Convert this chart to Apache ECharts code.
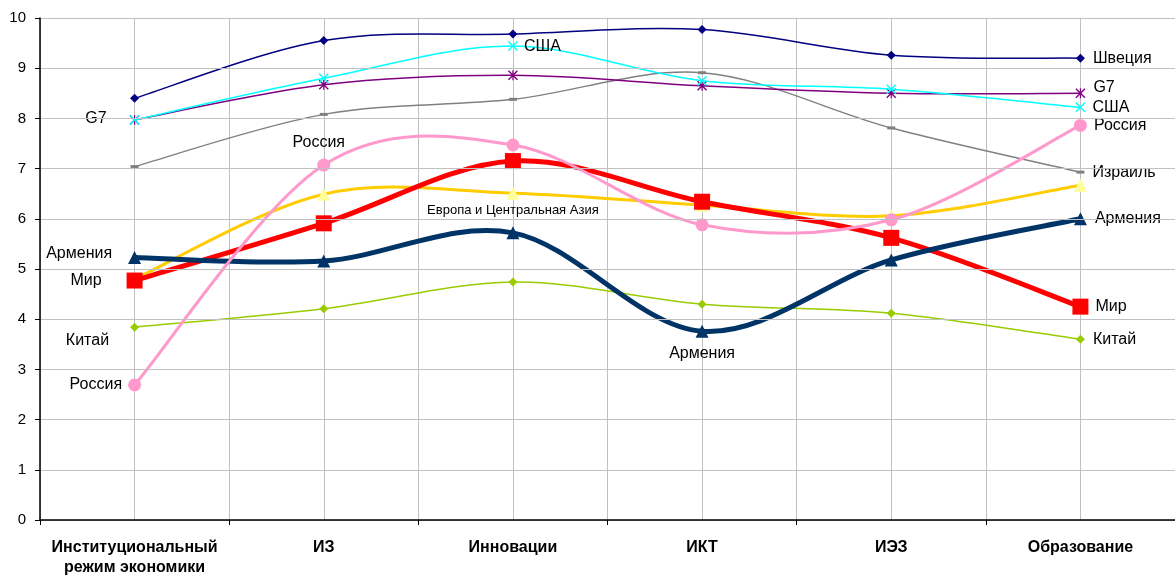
<!DOCTYPE html>
<html><head><meta charset="utf-8">
<script src="https://cdn.jsdelivr.net/npm/echarts@6/dist/echarts.min.js"></script>
<style>html,body{margin:0;padding:0;background:#fff}#c{width:1175px;height:576px}</style>
</head><body><div id="c"></div>
<script>
var categories = ['Институциональный\nрежим экономики', 'ИЗ', 'Инновации', 'ИКТ', 'ИЭЗ', 'Образование'];
var yTicks = [0,1,2,3,4,5,6,7,8,9,10];
var sweden  = [8.40, 9.55, 9.68, 9.77, 9.26, 9.20];
var usa     = [7.97, 8.80, 9.44, 8.75, 8.58, 8.22];
var g7      = [7.97, 8.67, 8.86, 8.65, 8.50, 8.50];
var israel  = [7.04, 8.08, 8.38, 8.91, 7.81, 6.93];
var russia  = [2.69, 7.07, 7.47, 5.88, 5.98, 7.86];
var europe  = [4.80, 6.49, 6.51, 6.27, 6.06, 6.67];
var world   = [4.77, 5.91, 7.15, 6.34, 5.62, 4.25];
var armenia = [5.23, 5.16, 5.72, 3.76, 5.18, 6.00];
var china   = [3.84, 4.21, 4.74, 4.30, 4.12, 3.60];

var FONT = '"Liberation Sans", Arial, sans-serif';
function lab(name, pos, dist, off, size) {
  return {show: true, position: pos, distance: dist, offset: off || [0,0], formatter: name,
          color: '#000', fontSize: size || 16, fontFamily: FONT};
}
function withLabels(arr, labels) {
  return arr.map(function (v, i) {
    return labels[i] ? {value: v, label: labels[i]} : v;
  });
}
var X_PATH = 'path://M0,1L1,0L5,4L9,0L10,1L6,5L10,9L9,10L5,6L1,10L0,9L4,5Z';
var STAR_PATH = 'path://M0,1L1,0L5,4L9,0L10,1L6,5L10,9L9,10L5,6L1,10L0,9L4,5ZM4.4,0L5.6,0L5.6,10L4.4,10Z';

// Excel-like smooth curve (Catmull-Rom -> cubic Bezier) drawn through the axes' scales
function curve(values, color, width, z) {
  return {
    type: 'custom', xAxisIndex: 0, yAxisIndex: 0, z: z, silent: true,
    data: values.map(function (v, i) { return [i, v]; }),
    renderItem: function (params, api) {
      if (params.dataIndex !== 0) return null;
      var p = values.map(function (v, i) { return api.coord([i, v]); });
      var n = p.length;
      var d = 'M' + p[0][0] + ',' + p[0][1];
      for (var i = 0; i < n - 1; i++) {
        var p0 = p[Math.max(i - 1, 0)], p1 = p[i], p2 = p[i + 1], p3 = p[Math.min(i + 2, n - 1)];
        var c1x = p1[0] + (p2[0] - p0[0]) / 6, c1y = p1[1] + (p2[1] - p0[1]) / 6;
        var c2x = p2[0] - (p3[0] - p1[0]) / 6, c2y = p2[1] - (p3[1] - p1[1]) / 6;
        d += 'C' + c1x + ',' + c1y + ' ' + c2x + ',' + c2y + ' ' + p2[0] + ',' + p2[1];
      }
      return {type: 'path', shape: {pathData: d},
              style: {fill: 'none', stroke: color, lineWidth: width, lineJoin: 'round'}};
    }
  };
}
function markers(name, data, symbol, size, color, z, labels) {
  return {
    name: name, type: 'line', data: withLabels(data, labels || {}),
    xAxisIndex: 0, yAxisIndex: 0, z: z,
    lineStyle: {width: 0, opacity: 0},
    symbol: symbol, symbolSize: size, showAllSymbol: true,
    itemStyle: {color: color, opacity: 1},
    label: {show: false},
    emphasis: {disabled: true}
  };
}
var specs = [
  ['Китай', china, '#99CC00', 1.5, 'diamond', 9, null,
    {0: lab('Китай', 'left', 21, [0, 13]), 5: lab('Китай', 'right', 8)}],
  ['Израиль', israel, '#808080', 1.5, 'rect', [8, 3], null,
    {5: lab('Израиль', 'right', 8)}],
  ['G7', g7, '#800080', 1.5, STAR_PATH, 10, null,
    {0: lab('G7', 'left', 23, [0, -1]), 5: lab('G7', 'right', 8, [0, -6])}],
  ['США', usa, '#00FFFF', 1.5, X_PATH, 10, null,
    {2: lab('США', 'right', 6), 5: lab('США', 'right', 7)}],
  ['Швеция', sweden, '#000080', 1.5, 'diamond', 9, null,
    {5: lab('Швеция', 'right', 8)}],
  ['Европа и Центральная Азия', europe, '#FFCC00', 3, 'triangle', 13, '#FFFF99',
    {2: lab('Европа и Центральная Азия', 'bottom', 4, [0, 0], 13)}],
  ['Мир', world, '#FF0000', 5, 'rect', 16, null,
    {0: lab('Мир', 'left', 25), 5: lab('Мир', 'right', 7)}],
  ['Армения', armenia, '#003366', 5, 'triangle', 13, null,
    {0: lab('Армения', 'left', 16, [0, -4]), 3: lab('Армения', 'bottom', 8), 5: lab('Армения', 'right', 8)}],
  ['Россия', russia, '#FF99CC', 3, 'circle', 13, null,
    {0: lab('Россия', 'left', 6), 1: lab('Россия', 'top', 8, [-5, 0]), 5: lab('Россия', 'right', 7)}]
];
var series = [];
specs.forEach(function (s, k) {
  series.push(curve(s[1], s[2], s[3], 2 + 2 * k));
  series.push(markers(s[0], s[1], s[4], s[5], s[6] || s[2], 3 + 2 * k, s[7]));
});

var option = {
  animation: false,
  backgroundColor: '#fff',
  grid: {left: 40, right: 0, top: 18, bottom: 56, containLabel: false, outerBoundsMode: 'none'},
  xAxis: [{
    type: 'category', data: categories, boundaryGap: true,
    axisLine: {show: true, lineStyle: {color: '#000', width: 1.5}},
    axisTick: {show: true, length: 5, lineStyle: {color: '#000'}},
    splitLine: {show: false},
    axisLabel: {color: '#000', fontSize: 16, fontWeight: 'bold', fontFamily: FONT, margin: 18, lineHeight: 20, interval: 0},
    z: 40
  }, {
    type: 'value', min: 0, max: 12, interval: 1, position: 'bottom',
    axisLine: {show: false}, axisTick: {show: false}, axisLabel: {show: false},
    splitLine: {show: true, lineStyle: {color: '#c0c0c0', width: 1}}
  }],
  yAxis: {
    type: 'value', min: yTicks[0], max: yTicks[yTicks.length-1], interval: 1,
    axisLine: {show: true, lineStyle: {color: '#000', width: 1.5}},
    axisTick: {show: true, length: 5, lineStyle: {color: '#000'}},
    axisLabel: {color: '#000', fontSize: 15, fontFamily: FONT, margin: 14},
    splitLine: {show: true, lineStyle: {color: '#c0c0c0', width: 1}},
    z: 40
  },
  series: series
};
var chart = echarts.init(document.getElementById('c'), null, {renderer: 'canvas'});
chart.setOption(option);
</script>
</body></html>
